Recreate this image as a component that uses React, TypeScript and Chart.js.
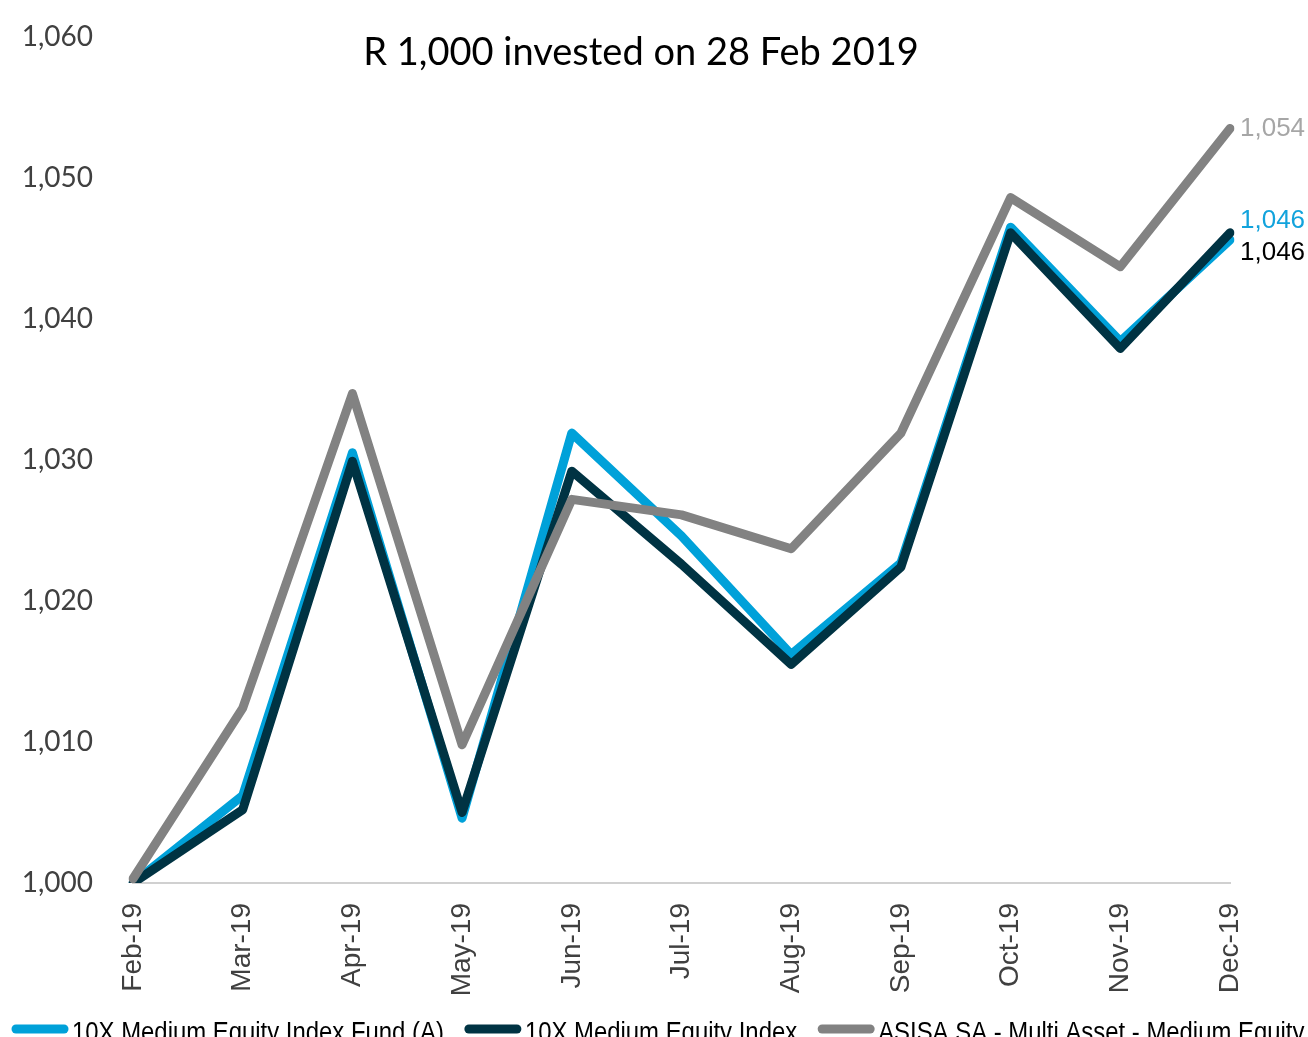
import React, { useEffect, useRef } from "react";
import { Chart, registerables } from "chart.js";

Chart.register(...registerables);

const categories = ["Feb-19", "Mar-19", "Apr-19", "May-19", "Jun-19", "Jul-19", "Aug-19", "Sep-19", "Oct-19", "Nov-19", "Dec-19"];
const fundA = [1000, 1006.2, 1030.5, 1004.6, 1031.9, 1024.6, 1016.2, 1022.7, 1046.5, 1038.4, 1045.6];
const mediumIndex = [1000, 1005.2, 1029.9, 1005.0, 1029.2, 1022.6, 1015.5, 1022.4, 1046.1, 1037.9, 1046.1];
const asisa = [1000.3, 1012.4, 1034.7, 1009.8, 1027.2, 1026.1, 1023.7, 1031.9, 1048.6, 1043.7, 1053.5];
const seriesNames = ["10X Medium Equity Index Fund (A)", "10X Medium Equity Index", "ASISA SA - Multi Asset - Medium Equity"];
const endLabels = ["1,046", "1,046", "1,054"];
const yMin = 1000;
const yMax = 1060;
const yStep = 10;
const titleText = "R 1,000 invested on 28 Feb 2019";

const colors = ["#00a1d9", "#003343", "#828282"];
const endLabelColors = ["#12a3dc", "#000000", "#a6a6a6"];
const endLabelOffsets = [-19, 20, 0];
const SHIFT = 20;

export default function App() {
  const canvasRef = useRef<HTMLCanvasElement | null>(null);

  useEffect(() => {
    const canvas = canvasRef.current;
    if (!canvas) return;

    const overlay = {
      id: "overlay",
      afterDatasetsDraw(chart: any) {
        const ctx = chart.ctx;
        ctx.save();
        // title
        ctx.fillStyle = "#000000";
        ctx.font = "38px Lato";
        ctx.textAlign = "center";
        ctx.textBaseline = "middle";
        ctx.fillText(titleText, 641, 53 + SHIFT);

        // end labels
        const xs = chart.scales.x;
        const ys = chart.scales.y;
        const last = categories.length - 1;
        const series = [fundA, mediumIndex, asisa];
        ctx.font = "26px 'Liberation Sans', Arial, sans-serif";
        ctx.textAlign = "left";
        series.forEach((s, i) => {
          const px = xs.getPixelForValue(last) + 10;
          const py = ys.getPixelForValue(s[last]) + endLabelOffsets[i];
          ctx.fillStyle = endLabelColors[i];
          ctx.fillText(endLabels[i], px, py);
        });

        // legend (condensed)
        const sx = 0.885;
        ctx.font = "27px 'Liberation Sans', Arial, sans-serif";
        ctx.textBaseline = "alphabetic";
        let start = 12;
        const ly = 1029 + SHIFT;
        seriesNames.forEach((name, i) => {
          ctx.strokeStyle = colors[i];
          ctx.lineWidth = 9;
          ctx.lineCap = "round";
          ctx.beginPath();
          ctx.moveTo(start + 4, ly);
          ctx.lineTo(start + 52, ly);
          ctx.stroke();
          const tx = start + 60;
          const w = ctx.measureText(name).width * sx;
          ctx.save();
          ctx.translate(tx, 1041 + SHIFT);
          ctx.scale(sx, 1);
          ctx.fillStyle = "#000000";
          ctx.fillText(name, 0, 0);
          ctx.restore();
          start = tx + w + 21;
        });
        ctx.restore();
      },
    };

    const mk = (i: number, data: number[], order: number) => ({
      label: seriesNames[i],
      data,
      borderColor: colors[i],
      backgroundColor: colors[i],
      borderWidth: 9,
      pointRadius: 0,
      pointHoverRadius: 0,
      tension: 0,
      fill: false,
      borderJoinStyle: "round" as const,
      borderCapStyle: "round" as const,
      order,
    });

    const chart = new Chart(canvas, {
      type: "line",
      data: {
        labels: categories,
        datasets: [mk(0, fundA, 3), mk(1, mediumIndex, 2), mk(2, asisa, 1)],
      },
      plugins: [overlay],
      options: {
        responsive: false,
        animation: false,
        layout: { padding: { top: 2, left: 0, right: 78, bottom: 0 } },
        plugins: {
          title: { display: false },
          tooltip: { enabled: false },
          legend: { display: false },
        },
        scales: {
          x: {
            type: "category",
            offset: false,
            grid: { display: false, drawTicks: false },
            border: { display: true, color: "#d0d0d0", width: 2 },
            afterFit: (s: any) => {
              s.height = 154;
            },
            ticks: {
              minRotation: 90,
              maxRotation: 90,
              autoSkip: false,
              padding: 20,
              color: "#404040",
              font: { family: "'Liberation Sans', Arial, sans-serif", size: 28 },
            },
          },
          y: {
            min: yMin,
            max: yMax,
            grid: { display: false, drawTicks: false },
            border: { display: false },
            afterFit: (s: any) => {
              s.width = 133;
            },
            ticks: {
              stepSize: yStep,
              padding: 40,
              color: "#404040",
              font: { family: "Lato", size: 28 },
              callback: (v: any) => Number(v).toLocaleString("en-US"),
            },
          },
        },
      },
    });

    return () => chart.destroy();
  }, []);

  return (
    <div style={{ position: "fixed", left: 0, top: 0, width: 1308, height: 1037, overflow: "hidden", background: "#fff" }}>
      <canvas
        ref={canvasRef}
        width={1308}
        height={1037 + SHIFT}
        style={{ display: "block", position: "absolute", left: 0, top: -SHIFT }}
      />
    </div>
  );
}
